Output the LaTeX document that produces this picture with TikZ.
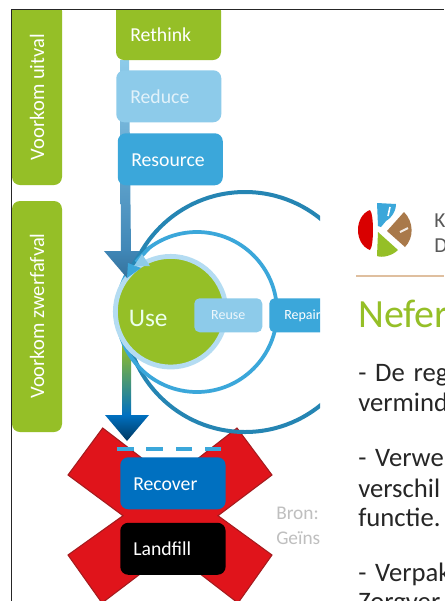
\documentclass[tikz,border=0pt]{standalone}
\usepackage{fontspec}
\setmainfont{Carlito}
\usetikzlibrary{arrows.meta,shadings}
\newcommand{\wsp}{\hskip 6.6pt\relax}
\definecolor{cgreen}{HTML}{95BF27}
\definecolor{clight}{HTML}{8DCBEA}
\definecolor{cblue}{HTML}{3BA7DA}
\definecolor{cdark}{HTML}{2585B3}
\definecolor{crec}{HTML}{0070C0}
\definecolor{cred}{HTML}{E0141B}
\definecolor{credd}{HTML}{A51B1E}
\definecolor{cring}{HTML}{B4DCF2}
\definecolor{cbrown}{HTML}{A9794A}
\definecolor{cshaft}{HTML}{3F86B6}
\tikzset{
  x=0.75pt,y=-0.75pt,
  boxn/.style={rounded corners=6pt,minimum height=39pt,inner sep=0pt,anchor=north west},
  lab/.style={font=\fontsize{14.8pt}{16pt}\selectfont,text=white,anchor=west,inner sep=0pt},
  sidelab/.style={font=\fontsize{15.4pt}{17pt}\selectfont,text=white,rotate=90,inner sep=0pt},
  body/.style={font=\fontsize{20pt}{22pt}\selectfont,text=black!85,anchor=base west,inner sep=0pt},
  bron/.style={font=\fontsize{14.5pt}{16pt}\selectfont,text=black!25,anchor=base west,inner sep=0pt},
  small/.style={font=\fontsize{10.5pt}{12pt}\selectfont,inner sep=0pt},
  greylab/.style={font=\fontsize{16pt}{18pt}\selectfont,text=black!65,anchor=base west,inner sep=0pt},
}
\begin{document}
\begin{tikzpicture}
\useasboundingbox (0,0) rectangle (444,601);
\fill[white] (0,0) rectangle (444,601);
\begin{scope}
\clip (0,0) rectangle (444,601);
% frame
\draw[black!85,line width=1.1pt] (11.5,601) -- (11.5,9.5) -- (444,9.5);
% side bars
\begin{scope}
\clip (0,10) rectangle (100,601);
\fill[cgreen,rounded corners=6pt] (12,3) rectangle (62,185);
\end{scope}
\fill[cgreen,rounded corners=6pt] (12,201) rectangle (62,432);
\node[sidelab] (vu) at (37,97) {Voorkom uitval};
\node[sidelab] (vz) at (37,316) {Voorkom zwerfafval};
% down arrow
\shade[top color=cgreen,bottom color=crec] (122,345) rectangle (131,415);
\shade[top color=crec,bottom color=crec!50!black] (105,415) -- (149,415) -- (127,441) -- cycle;
% red X
\draw[fill=cred,draw=credd,line width=0.8pt,line join=miter]
  (102.7,428) -- (170.4,480) -- (237,428) -- (272,475) -- (218,515.7) -- (272,555) -- (238,603)
  -- (170.4,551) -- (102,603) -- (68,555) -- (123,515.7) -- (68,475) -- cycle;
\draw[cblue,line width=3pt] (117,449) -- (134,449) (146,449) -- (163,449) (176,449) -- (192,449) (205,449) -- (221,449);
\end{scope}
\begin{scope}
\clip (0,0) rectangle (320,601);
% circles
\draw[cdark,line width=3pt] (245,312) circle (120);
\draw[cblue,line width=2.8pt] (197,312) circle (80);
\node[draw=cring,line width=3.6pt,fill=cgreen,circle,minimum size=83pt,inner sep=0pt] (use) at (170.7,311.7) {};
\node[font=\fontsize{19pt}{22pt}\selectfont,text=white!92!green,anchor=west,inner sep=0pt] (usel) at (128.5,318) {Use};
% shaft and its head over the ring
\shade[top color=clight,bottom color=cshaft] (120,60) -- (129,60) -- (131,253) -- (121,253) -- cycle;
\shade[top color=cshaft,bottom color=cshaft!85!black] (104,251) -- (146,251) -- (127,278) -- cycle;
\draw[cdark,line width=3pt] (129,274) .. controls (133,264) and (138,256) .. (146,247);
\fill[cblue] (127,278) -- (128,263) -- (141,268) -- cycle;
\draw[cblue,line width=2.8pt] (136,262) -- (150,247);
\fill[clight] (134,266) -- (142,254) -- (150,266) -- cycle;
\node[boxn,fill=clight,minimum width=51pt,minimum height=25.5pt,rounded corners=4pt] (reuse) at (194,298) {};
\node[small,text=white!85!clight] at (reuse) {Reuse};
\node[boxn,fill=cblue,minimum width=60pt,minimum height=25.5pt,rounded corners=4pt] (repair) at (269,298) {};
\node[small,text=white,anchor=west] at (284,316) {Repair};
\node[bron] at (276,519) {Bron:};
\node[bron] at (276,544) {Geïns};
\end{scope}
% boxes
\begin{scope}
\clip (100,10) rectangle (240,100);
\fill[cgreen,rounded corners=6pt] (116,3) rectangle (221,60);
\end{scope}
\node[lab] (rethink) at (130,35) {Rethink};
\node[boxn,fill=clight,minimum width=78.75pt] (reduce) at (116,70) {};
\node[lab,text=white!75!clight] at (130,97) {Reduce};
\node[boxn,fill=cblue,minimum width=78.75pt] (resource) at (117.5,133) {};
\node[lab] at (131,160) {Resource};
\node[boxn,fill=crec,minimum width=79pt] (recover) at (120,457) {};
\node[lab] at (133,484) {Recover};
\node[boxn,fill=black,minimum width=79pt] (landfill) at (120,522.5) {};
\node[lab] at (133,549) {Landfill};
% logo
\fill[red!85!black] (370,210) .. controls (354,216) and (354,244) .. (370,250) .. controls (374,246) and (374,214) .. (370,210) -- cycle;
\fill[cblue] (377,203) -- (396,204) .. controls (396,214) and (388,220) .. (386,221) -- (381,227) -- (378,226) -- cycle;
\draw[white,line width=1.2pt] (390,207) -- (388,216);
\fill[cbrown] (387,231) -- (404,212) .. controls (414,222) and (414,238) .. (405,247) -- cycle;
\draw[white!85!cbrown,line width=1.5pt] (400,232) -- (408,228);
\fill[cgreen] (378,232) -- (398,250) .. controls (392,256) and (382,258) .. (377,256) -- cycle;
\begin{scope}
\clip (0,0) rectangle (444,601);
\node[greylab] at (434,227) {K};
\node[greylab] at (434,252) {D};
\draw[brown!50!white,line width=0.8pt] (356,276) -- (444,276);
\node[font=\fontsize{30pt}{34pt}\selectfont,text=cgreen,anchor=base west,inner sep=0pt] at (358,327) {Nefer};
\node[body] at (358,381.5) {-\wsp De\wsp reg};
\node[body] at (358,411.5) {vermind};
\node[body] at (358,466) {-\wsp Verwe};
\node[body] at (358,497) {verschil};
\node[body] at (358,526) {functie.};
\node[body] at (358,581) {-\wsp Verpak};
\node[body] at (358,610) {Zorgver};
\end{scope}
\end{tikzpicture}
\end{document}
